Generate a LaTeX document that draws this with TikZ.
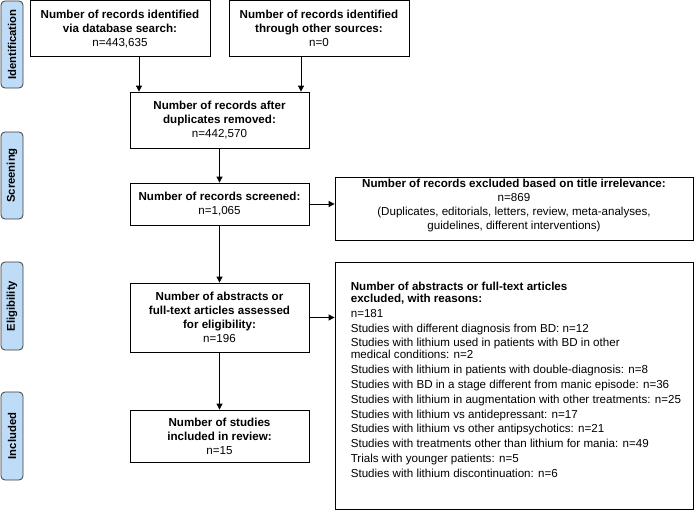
\documentclass[tikz,border=0pt]{standalone}
\usepackage{fontspec}
\setmainfont{Liberation Sans}
\usetikzlibrary{arrows.meta}
\definecolor{sidefill}{RGB}{190,220,247}
\definecolor{sidedraw}{RGB}{60,60,60}
\begin{document}
\begin{tikzpicture}[x=1pt,y=-1pt,
  box/.style={draw=black, line width=0.8pt, align=center, inner sep=0pt,
    font=\fontsize{11.6}{14}\selectfont},
  side/.style={draw=sidedraw, fill=sidefill, rounded corners=4pt, rotate=90,
    line width=0.8pt, font=\fontsize{11.3}{13}\selectfont\bfseries,
    minimum height=22pt, inner sep=0pt},
  arr/.style={line width=0.8pt, -{Triangle[length=6pt,width=6pt]}}]
\useasboundingbox (0,0) rectangle (696,511);

% side labels
\node[side, minimum width=87pt] (s1) at (12,44.5) {Identification};
\node[side, minimum width=87pt] (s2) at (12,175.5) {Screening};
\node[side, minimum width=88pt] (s3) at (12,306) {Eligibility};
\node[side, minimum width=88pt] (s4) at (12,436) {Included};

% boxes
\node[box, minimum width=180pt, minimum height=56pt] (A) at (120,28.8)
  {\textbf{Number of records identified}\\\textbf{via database search:}\\n=443,635};
\node[box, minimum width=180pt, minimum height=56pt] (B) at (319,28.8)
  {\textbf{Number of records identified}\\\textbf{through other sources:}\\n=0};
\node[box, minimum width=179pt, minimum height=56pt] (C) at (219.5,120)
  {\textbf{Number of records after}\\\textbf{duplicates removed:}\\n=442,570};
\node[box, minimum width=179pt, minimum height=42pt] (D) at (219.5,204)
  {\textbf{Number of records screened:}\\n=1,065};
\node[box, minimum width=358pt, minimum height=63pt, text depth=8.5pt] (E) at (514,208.5)
  {\textbf{Number of records excluded based on title irrelevance:}\\n=869\\(Duplicates, editorials, letters, review, meta-analyses,\\guidelines, different interventions)};
\node[box, minimum width=179pt, minimum height=69pt] (F) at (219.5,317.5)
  {\textbf{Number of abstracts or}\\\textbf{full-text articles assessed}\\\textbf{for eligibility:}\\n=196};
\node[box, minimum width=358pt, minimum height=247pt] (G) at (514,385.5) {};
\node[anchor=north west, align=left, inner sep=0pt,
  font=\fontsize{11.6}{12}\selectfont] (Gt) at ([xshift=16pt,yshift=-20pt]G.north west)
  {\textbf{Number of abstracts or full-text articles}\\
   \textbf{excluded, with reasons:}\\[3pt]
   n=181\\[2.8pt]
   Studies with different diagnosis from BD: n=12\\[2.8pt]
   Studies with lithium used in patients with BD in other\\
   medical conditions: n=2\\[2.8pt]
   Studies with lithium in patients with double-diagnosis: n=8\\[2.8pt]
   Studies with BD in a stage different from manic episode: n=36\\[2.8pt]
   Studies with lithium in augmentation with other treatments: n=25\\[2.8pt]
   Studies with lithium vs antidepressant: n=17\\[2.8pt]
   Studies with lithium vs other antipsychotics: n=21\\[2.8pt]
   Studies with treatments other than lithium for mania: n=49\\[2.8pt]
   Trials with younger patients: n=5\\[2.8pt]
   Studies with lithium discontinuation: n=6};
\node[box, minimum width=179pt, minimum height=52pt] (H) at (219.5,436)
  {\textbf{Number of studies}\\\textbf{included in review:}\\n=15};

% connectors
\draw[arr] ([xshift=19pt]A.south) -- ([xshift=19pt]A.south |- C.north);
\draw[arr] ([xshift=-18pt]B.south) -- ([xshift=-18pt]B.south |- C.north);
\draw[arr] (C.south) -- (D.north);
\draw[arr] (D.east) -- (D.east -| E.west);
\draw[arr] (D.south) -- (F.north);
\draw[arr] (F.east) -- (F.east -| G.west);
\draw[arr] (F.south) -- (H.north);
\end{tikzpicture}
\end{document}
